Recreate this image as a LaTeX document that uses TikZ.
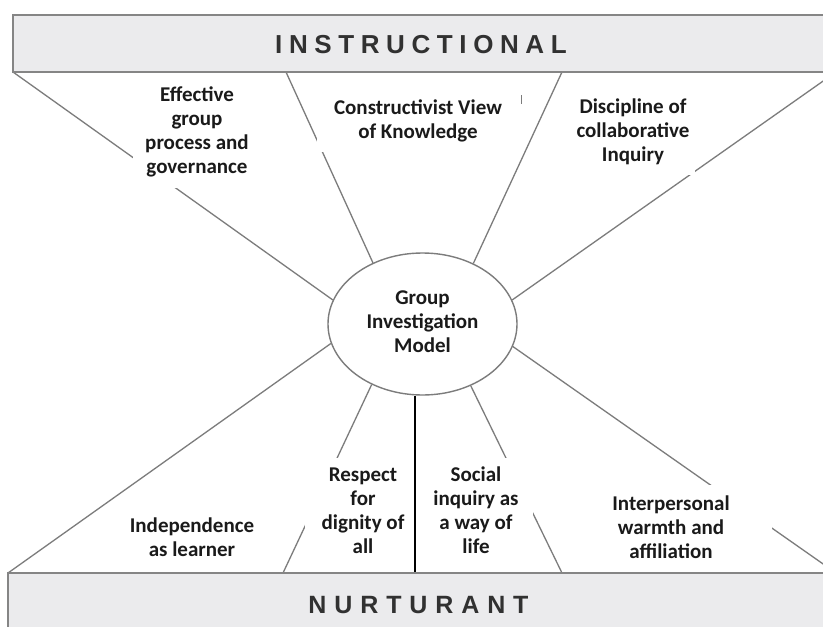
\documentclass[tikz,border=0pt]{standalone}
\usepackage{fontspec}
\setmainfont{Carlito}
\newfontfamily\boxfont{Liberation Sans}
\usetikzlibrary{shapes.geometric}
\definecolor{linegray}{HTML}{7C7C7C}
\definecolor{boxgray}{HTML}{858585}
\definecolor{bandfill}{HTML}{EBEBED}
\definecolor{inkblack}{HTML}{1A1A1A}
\makeatletter
\newcommand\myspread[2]{\@tfor\myletter:=#2\do{\myletter\kern#1}\unkern}
\makeatother
\begin{document}
\begin{tikzpicture}[x=1pt,y=-1pt,
  conn/.style={draw=linegray,line width=1.3pt},
  lbl/.style={fill=white,align=center,inner sep=2pt,text=inkblack,
    font=\fontsize{21}{24}\selectfont\bfseries},
  band/.style={draw=boxgray,line width=2pt,fill=bandfill},
  bandtext/.style={anchor=base,text=inkblack!90,inner sep=0pt}]
\useasboundingbox (0,0) rectangle (823,627);
\clip (0,0) rectangle (823,627);
\fill[white] (0,0) rectangle (823,627);

% band anchor points
\coordinate (t1) at (13,72);
\coordinate (t2) at (286,72);
\coordinate (t3) at (562,72);
\coordinate (t4) at (836,72);
\coordinate (b1) at (8,573);
\coordinate (b2) at (283,573);
\coordinate (b3) at (415,573);
\coordinate (b4) at (562,573);
\coordinate (b5) at (836,573);

% centre
\node[ellipse,draw=linegray,line width=1.4pt,minimum width=189pt,minimum height=142pt,
  inner sep=0pt,align=center,text=inkblack,font=\fontsize{21}{24}\selectfont\bfseries]
  (gim) at (422.5,324) {\strut Group\\\strut Investigation\\\strut Model};

% spokes
\draw[conn] (t1) -- (gim.165.5);
\draw[conn] (t2) -- (gim.129.6);
\draw[conn] (t3) -- (gim.50.4);
\draw[conn] (t4) -- (gim.15.2);
\draw[conn] (b1) -- (gim.192.5);
\draw[conn] (b2) -- (gim.230.2);
\draw[conn] (b4) -- (gim.308.7);
\draw[conn] (b5) -- (gim.346);

% small tick
\coordinate (tk1) at (521,95);
\coordinate (tk2) at (521,104);
\draw[linegray,line width=1pt] (tk1) -- (tk2);

% labels
\node[lbl,minimum width=128pt,minimum height=110pt] (eff) at (197,133)
  {\strut Effective\\\strut group\\\strut process and\\\strut governance};
\node[lbl,minimum width=202pt,minimum height=61pt] (con) at (418,121.5)
  {\strut Constructivist View\\\strut of Knowledge};
\node[lbl,minimum width=124pt,minimum height=84pt] (dis) at (633,133)
  {\strut Discipline of\\\strut collaborative\\\strut Inquiry};
\node[lbl] (ind) at (192,539.5)
  {\strut Independence\\\strut as learner};
\node[lbl,minimum width=116pt,minimum height=110pt] (res) at (363,513)
  {\strut Respect\\\strut for\\\strut dignity of\\\strut all};
\node[lbl,minimum width=114pt,minimum height=110pt] (soc) at (476,513)
  {\strut Social\\\strut inquiry as\\\strut a way of\\\strut life};
\node[lbl,minimum width=202pt,minimum height=90pt] (int) at (671,530)
  {\strut Interpersonal\\\strut warmth and\\\strut affiliation};

% vertical line
\draw[black,line width=1.5pt] (b3) -- (b3 |- gim.south);

% bands
\path[band] (13,15) rectangle (850,72);
\path[band] (8,573) rectangle (850,640);
\node[bandtext,font=\boxfont\bfseries\fontsize{26}{30}\selectfont] (instr) at (421,53)
  {\myspread{6.6pt}{INSTRUCTIONAL}};
\node[bandtext,font=\boxfont\bfseries\fontsize{25}{29}\selectfont] (nurt) at (418.5,613)
  {\myspread{7.9pt}{NURTURANT}};
\end{tikzpicture}
\end{document}
